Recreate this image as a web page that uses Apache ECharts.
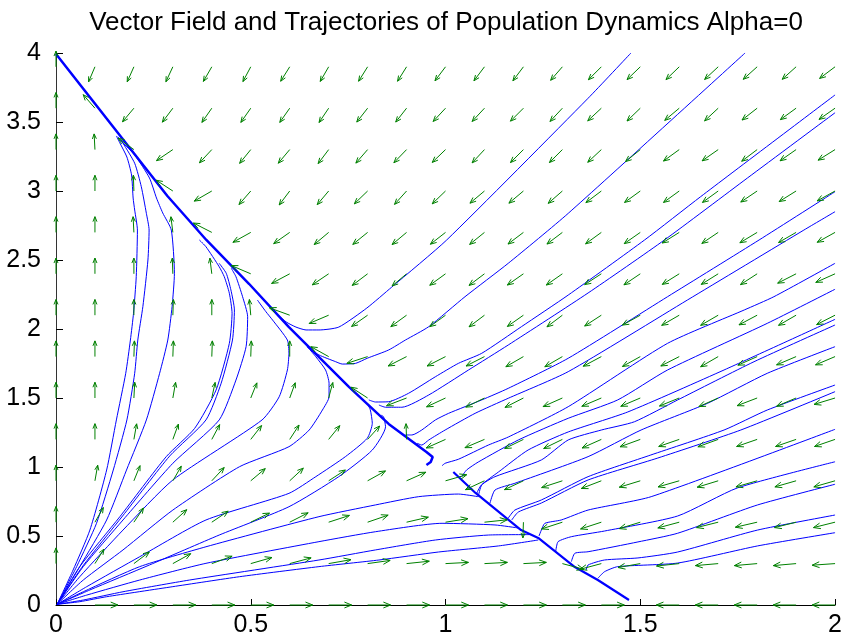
<!DOCTYPE html>
<html><head><meta charset="utf-8">
<script src="https://cdn.jsdelivr.net/npm/echarts@6/dist/echarts.min.js"></script>
<style>html,body{margin:0;padding:0;background:#fff}#c{width:845px;height:641px}</style>
</head><body><div id="c"></div>
<script>
// ---------- data ----------
const titleText = 'Vector Field and Trajectories of Population Dynamics Alpha=0';
const xTicks = [0, 0.5, 1, 1.5, 2];
const yTicks = [0, 0.5, 1, 1.5, 2, 2.5, 3, 3.5, 4];

// quiver grid
const fieldX = [0,0.1,0.2,0.3,0.4,0.5,0.6,0.7,0.8,0.9,1,1.1,1.2,1.3,1.4,1.5,1.6,1.7,1.8,1.9,2];
const fieldY = [0,0.3,0.6,0.9,1.2,1.5,1.8,2.1,2.4,2.7,3,3.3,3.6,3.9];
// arrow direction (degrees, 0 = right, 90 = up) per row of fieldY
const fieldAngles = [
  [null,0,0,0,0,0,0,0,0,0,0,0,0,0,0,null,180,180,180,180,180],
  [90,58,37,29,20,16,15,10,8,6,3,3,3,345,195,190,186,185,185,185,184],
  [90,60,56,42,34,26,27,18,19,13,9,6,268,198,198,197,195,194,193,194,194],
  [90,80,68,60,47,40,43,33,29,24,16,205,205,198,201,197,196,197,196,196,196],
  [90,90,80,70,62,52,57,51,48,92,204,203,206,206,204,200,199,200,199,199,199],
  [90,90,87,80,78,68,70,75,147,201,205,206,207,204,203,203,202,204,201,203,197],
  [90,90,88,88,88,88,90,151,198,207,207,207,210,210,208,209,207,210,204,203,203],
  [90,90,90,88,90,95,160,203,215,216,216,217,215,217,213,209,210,210,208,210,207],
  [90,90,90,92,97,157,208,214,217,220,216,217,215,215,213,214,212,212,213,207,204],
  [90,90,93,97,153,209,215,220,219,220,218,219,217,217,216,215,212,214,211,210,209],
  [90,90,92,147,210,229,233,230,224,228,224,220,220,221,217,216,216,216,214,212,209],
  [90,93,144,214,227,231,230,233,229,226,224,227,225,225,223,219,216,215,217,215,212],
  [90,131,230,233,235,235,235,236,232,232,227,227,225,227,223,224,220,223,218,216,215],
  [90,247,246,245,240,242,238,240,238,238,233,233,233,229,225,224,224,223,222,222,217]
];

// trajectories entering from the top edge
const trajT1 = [[1.476,4.0],[1.366,3.672],[1.003,2.645],[0.862,2.304],[0.798,2.152],[0.726,2.014],[0.675,1.993],[0.642,1.993],[0.616,2.014],[0.591,2.051],[0.555,2.138]];
const trajT2 = [[1.769,4.0],[1.315,2.838],[1.161,2.476],[1.05,2.234],[0.957,2.017],[0.897,1.92],[0.854,1.848],[0.799,1.788],[0.769,1.751],[0.735,1.746],[0.718,1.763],[0.675,1.812],[0.645,1.87]];
// trajectories entering from the right edge
const trajR1 = [[2.0,3.696],[1.655,2.959],[1.511,2.645],[1.315,2.246],[1.195,2.017],[1.093,1.824],[1.033,1.751],[0.974,1.654],[0.905,1.534],[0.854,1.473],[0.82,1.471],[0.803,1.486]];
const trajR2 = [[2.0,3.567],[1.775,3.094],[1.562,2.645],[1.366,2.261],[1.161,1.884],[1.059,1.703],[0.957,1.522],[0.888,1.433],[0.846,1.433],[0.829,1.449]];
const trajR3 = [[2.0,2.995],[1.805,2.645],[1.57,2.234],[1.315,1.788],[1.161,1.57],[1.093,1.486],[1.008,1.389],[0.974,1.341],[0.939,1.268],[0.914,1.232],[0.897,1.232]];
const trajR4 = [[2.0,2.85],[1.92,2.717],[1.621,2.21],[1.315,1.691],[1.161,1.498],[1.076,1.389],[0.999,1.268],[0.957,1.196],[0.939,1.159],[0.927,1.172]];
const trajR5 = [[2.0,2.476],[1.843,2.234],[1.767,2.138],[1.57,1.896],[1.315,1.437],[1.161,1.217],[1.11,1.159],[1.033,1.056],[0.999,1.027],[0.991,1.009]];
const trajR6 = [[2.0,2.288],[1.826,2.041],[1.57,1.703],[1.442,1.486],[1.315,1.353],[1.187,1.196],[1.084,1.036],[1.054,0.978],[1.041,0.928]];
const trajR7 = [[2.0,2.07],[1.715,1.703],[1.468,1.399],[1.315,1.254],[1.212,1.123],[1.136,0.964],[1.092,0.87],[1.079,0.804]];
const trajR8 = [[2.0,2.029],[1.792,1.763],[1.596,1.486],[1.485,1.328],[1.4,1.268],[1.315,1.196],[1.246,1.051],[1.127,0.93],[1.093,0.87],[1.084,0.785]];
const trajR9 = [[2.0,1.872],[1.826,1.679],[1.673,1.462],[1.502,1.268],[1.366,1.075],[1.178,0.882],[1.127,0.833],[1.114,0.737]];
const trajR10 = [[2.0,1.594],[1.826,1.413],[1.715,1.268],[1.527,1.087],[1.366,0.93],[1.246,0.761],[1.178,0.688],[1.161,0.63]];
const trajR11 = [[2.0,1.546],[1.758,1.268],[1.545,1.065],[1.366,0.906],[1.246,0.739],[1.187,0.674],[1.17,0.616]];
const trajR12 = [[2.0,1.273],[1.528,0.785],[1.366,0.688],[1.297,0.616],[1.255,0.592],[1.246,0.543],[1.24,0.5]];
const trajR13 = [[2.0,1.038],[1.749,0.848],[1.596,0.645],[1.408,0.536],[1.323,0.495],[1.289,0.459],[1.283,0.391]];
const trajR14 = [[2.0,0.875],[1.801,0.725],[1.596,0.52],[1.494,0.457],[1.366,0.386],[1.332,0.375],[1.323,0.314]];
const trajR15 = [[2.0,0.652],[1.801,0.543],[1.596,0.384],[1.494,0.341],[1.408,0.326],[1.366,0.29],[1.361,0.254]];
const trajR16 = [[2.0,0.524],[1.801,0.428],[1.596,0.304],[1.442,0.278],[1.408,0.241],[1.391,0.193]];
// trajectories leaving the origin
const trajA = [[0.003,0.005],[0.044,0.254],[0.087,0.543],[0.13,0.978],[0.155,1.341],[0.179,1.679],[0.191,1.92],[0.199,2.114],[0.206,2.379],[0.209,2.717],[0.202,2.862],[0.198,2.949],[0.194,3.116],[0.182,3.246],[0.164,3.348],[0.155,3.399]];
const trajB = [[0.003,0.005],[0.053,0.278],[0.104,0.592],[0.147,0.978],[0.182,1.341],[0.202,1.679],[0.21,1.92],[0.223,2.162],[0.236,2.5],[0.239,2.717],[0.232,2.838],[0.219,3.031],[0.202,3.201],[0.172,3.346],[0.159,3.393]];
const trajC = [[0.003,0.005],[0.061,0.278],[0.13,0.616],[0.181,0.978],[0.232,1.341],[0.266,1.679],[0.287,1.92],[0.298,2.162],[0.304,2.404],[0.296,2.717],[0.274,2.841],[0.258,2.949],[0.24,3.094],[0.202,3.261],[0.164,3.37]];
const trajD = [[0.003,0.005],[0.061,0.278],[0.164,0.64],[0.283,1.075],[0.356,1.28],[0.411,1.558],[0.445,1.896],[0.452,2.114],[0.445,2.259],[0.432,2.379],[0.419,2.451],[0.385,2.596],[0.368,2.645]];
const trajE = [[0.003,0.005],[0.069,0.283],[0.171,0.645],[0.292,1.08],[0.385,1.341],[0.424,1.607],[0.453,1.92],[0.458,2.138],[0.449,2.283],[0.437,2.404],[0.419,2.476]];
const trajF = [[0.003,0.005],[0.07,0.278],[0.172,0.616],[0.3,1.027],[0.419,1.341],[0.462,1.63],[0.488,1.872],[0.492,2.089],[0.479,2.234],[0.462,2.379],[0.45,2.44]];
const trajG = [[0.003,0.005],[0.061,0.205],[0.172,0.543],[0.3,0.906],[0.529,1.341],[0.573,1.509],[0.594,1.703],[0.598,1.824],[0.594,1.92],[0.556,2.065],[0.539,2.125],[0.517,2.21]];
const trajH = [[0.003,0.005],[0.07,0.181],[0.172,0.399],[0.3,0.688],[0.471,1.002],[0.598,1.147],[0.65,1.268],[0.684,1.413],[0.701,1.509],[0.701,1.607],[0.692,1.703],[0.667,1.799],[0.645,1.872]];
const trajI = [[0.003,0.005],[0.079,0.133],[0.215,0.35],[0.385,0.616],[0.598,0.809],[0.667,0.93],[0.743,1.075],[0.799,1.208],[0.812,1.317],[0.807,1.413],[0.799,1.462]];
const trajI2 = [[0.003,0.005],[0.087,0.109],[0.24,0.29],[0.419,0.507],[0.598,0.712],[0.726,0.93],[0.812,1.123],[0.846,1.292],[0.841,1.364],[0.835,1.375]];
const trajJ = [[0.003,0.005],[0.07,0.096],[0.215,0.278],[0.385,0.422],[0.675,0.64],[0.82,0.725],[0.931,0.785],[1.033,0.804],[1.084,0.785]];
const trajK = [[0.003,0.005],[0.079,0.072],[0.215,0.181],[0.385,0.302],[0.675,0.459],[0.82,0.531],[0.991,0.592],[1.127,0.58],[1.187,0.558]];
const trajL = [[0.003,0.005],[0.07,0.036],[0.172,0.096],[0.343,0.181],[0.675,0.326],[0.82,0.399],[0.974,0.471],[1.11,0.507],[1.215,0.51]];
const trajM = [[0.003,0.005],[0.061,0.024],[0.13,0.06],[0.3,0.133],[0.471,0.205],[0.675,0.278],[0.829,0.326],[0.982,0.384],[1.136,0.428],[1.238,0.471]];
// where trajectories pile up and slide along the slow curve
const slideUpper = [[0,3.993],[0.143,3.478],[0.286,2.964],[0.386,2.645],[0.496,2.326],[0.598,2.014],[0.752,1.58],[0.854,1.312],[0.951,1.109],[0.967,1.072],[0.962,1.036],[0.951,1.014]];
const slideLower = [[1.02,0.964],[1.077,0.812],[1.194,0.543],[1.238,0.486],[1.332,0.275],[1.391,0.181],[1.471,0.036]];

const trajectories = [trajT1,trajT2,trajR1,trajR2,trajR3,trajR4,trajR5,trajR6,trajR7,trajR8,trajR9,trajR10,trajR11,trajR12,trajR13,trajR14,trajR15,trajR16,
  trajA,trajB,trajC,trajD,trajE,trajF,trajG,trajH,trajI,trajI2,trajJ,trajK,trajL,trajM];

// ---------- chart ----------
const FONT = 'Liberation Sans, Arial, sans-serif';
const arrowData = [];
fieldY.forEach((y, j) => fieldX.forEach((x, i) => {
  const a = fieldAngles[j][i];
  if (a !== null) arrowData.push([x, y, a]);
}));

const series = [];
trajectories.forEach(t => series.push({
  type: 'line', data: t, showSymbol: false, silent: true, z: 2, smooth: 0.2,
  lineStyle: { color: '#0000ff', width: 1 }
}));
series.push({
  type: 'line', data: slideUpper, showSymbol: false, silent: true, z: 3,
  lineStyle: { color: '#0000ff', width: 2.5 }
});
series.push({
  type: 'line', data: slideLower, showSymbol: false, silent: true, z: 3,
  lineStyle: { color: '#0000ff', width: 2.2 }
});
series.push({
  type: 'custom', data: arrowData, silent: true, z: 4, clip: false,
  encode: { x: 0, y: 1 },
  renderItem: (params, api) => {
    const p = api.coord([api.value(0), api.value(1)]);
    const a = api.value(2) * Math.PI / 180;
    const c = Math.cos(a), s = Math.sin(a);
    const L = 1 / Math.sqrt(c * c / (23 * 23) + s * s / (15.7 * 15.7));
    const tip = [p[0] + L * c, p[1] - L * s];
    const hl = 0.34 * L, ha = 22 * Math.PI / 180;
    const b1 = [tip[0] - hl * Math.cos(a - ha), tip[1] + hl * Math.sin(a - ha)];
    const b2 = [tip[0] - hl * Math.cos(a + ha), tip[1] + hl * Math.sin(a + ha)];
    return { type: 'group', children: [
      { type: 'line', shape: { x1: p[0], y1: p[1], x2: tip[0], y2: tip[1] }, style: { stroke: '#008000', lineWidth: 1 } },
      { type: 'polyline', shape: { points: [b1, tip, b2] }, style: { stroke: '#008000', fill: null, lineWidth: 1 } }
    ]};
  }
});

const chart = echarts.init(document.getElementById('c'));
chart.setOption({
  animation: false,
  backgroundColor: '#fff',
  graphic: [{
    type: 'text', x: 446, y: 10,
    style: { text: titleText, font: '26px ' + FONT, fill: '#000', textAlign: 'center', textVerticalAlign: 'top' }
  }],
  grid: { left: 56, right: 7, top: 53, bottom: 36, containLabel: false },
  xAxis: {
    type: 'value', min: xTicks[0], max: xTicks[xTicks.length - 1], interval: xTicks[1] - xTicks[0],
    axisLine: { show: true, onZero: false, lineStyle: { color: '#000', width: 1 } },
    axisTick: { show: true, inside: true, length: 6, lineStyle: { color: '#000' } },
    axisLabel: { color: '#000', fontSize: 25, fontFamily: FONT, margin: 8 },
    splitLine: { show: false }
  },
  yAxis: {
    type: 'value', min: yTicks[0], max: yTicks[yTicks.length - 1], interval: yTicks[1] - yTicks[0],
    axisLine: { show: true, onZero: false, lineStyle: { color: '#333', width: 1 } },
    axisTick: { show: true, inside: true, length: 7, lineStyle: { color: '#000' } },
    axisLabel: { color: '#000', fontSize: 25, fontFamily: FONT, margin: 15 },
    splitLine: { show: false }
  },
  series: series
});
</script></body></html>
